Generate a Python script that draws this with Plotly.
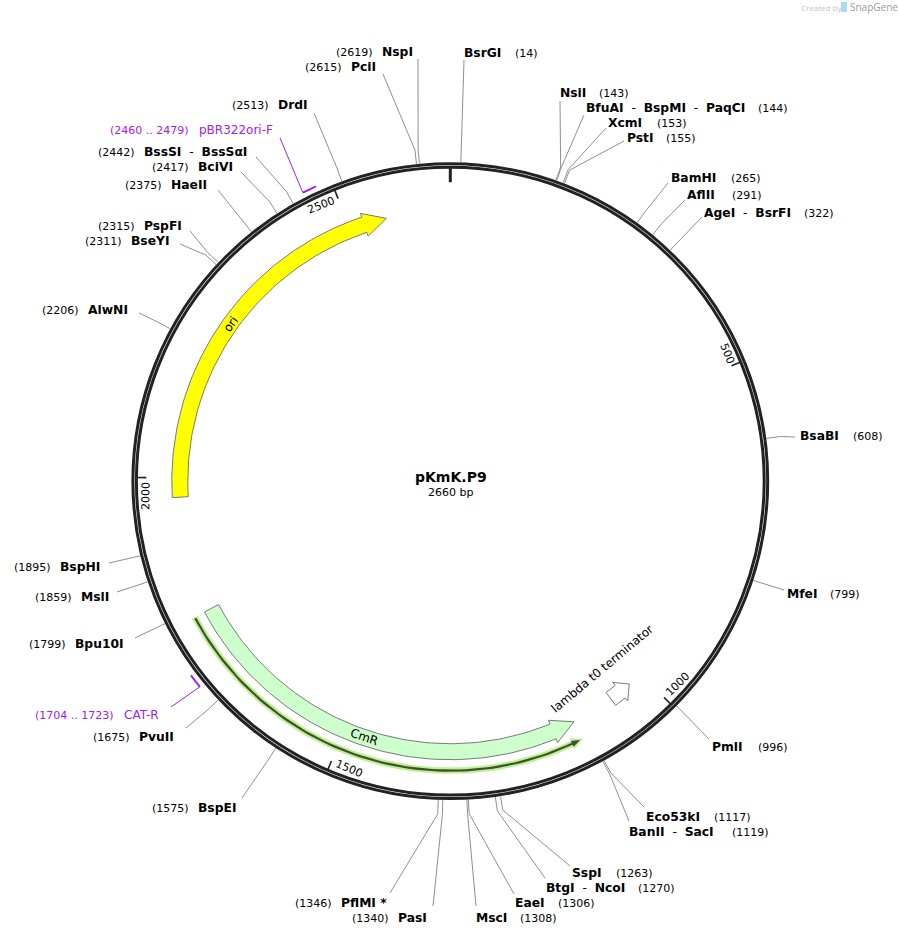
import numpy as np
import plotly.graph_objects as go

plasmid_name = "pKmK.P9"
plasmid_len = 2660

# restriction sites, clockwise from the origin
site_names = ["BsrGI", "NsiI", "BfuAI - BspMI - PaqCI", "XcmI", "PstI", "BamHI", "AflII",
              "AgeI - BsrFI", "BsaBI", "MfeI", "PmlI", "Eco53kI", "BanII - SacI", "SspI",
              "BtgI - NcoI", "EaeI", "MscI", "PasI", "PflMI *", "BspEI", "PvuII", "Bpu10I",
              "MslI", "BspHI", "AlwNI", "BseYI", "PspFI", "HaeII", "BciVI", "BssSI - BssSαI",
              "DrdI", "PciI", "NspI"]
site_bp = [14, 143, 144, 153, 155, 265, 291, 322, 608, 799, 996, 1117, 1119, 1263, 1270,
           1306, 1308, 1340, 1346, 1575, 1675, 1799, 1859, 1895, 2206, 2311, 2315, 2375,
           2417, 2442, 2513, 2615, 2619]

# label placement for the sites above (same order)
name_x = [464, 560, 586, 608, 627, 671, 687, 704, 800, 787, 712, 646, 629, 572, 546, 515, 476,
          398, 341, 198, 139, 75, 81, 60, 88, 131, 144, 171, 198, 144, 278, 351, 382]
num_x = [515, 599, 758, 657, 666, 731, 732, 804, 853, 830, 758, 714, 732, 616, 638, 558, 520,
         352, 295, 152, 93, 29, 35, 14, 42, 85, 98, 125, 152, 98, 232, 305, 336]
label_y = [53, 93, 108, 123, 138, 178, 195, 213, 436, 594, 747, 817, 832, 873, 888, 903, 918,
           918, 903, 808, 737, 644, 597, 567, 310, 241, 226, 185, 167, 152, 105, 67, 52]
leader_x = [464, 560, 584, 606, 624, 668, 685, 702, 795, 784, 709, 644, 629, 570, 545, 514, 476,
            433, 390, 242, 186, 135, 117, 109, 139, 180, 190, 218, 241, 256, 314, 383, 418]
leader_y = [60, 101, 115, 128, 141, 183, 200, 217, 437, 590, 739, 807, 821, 866, 878, 894, 906,
            906, 893, 798, 728, 638, 592, 563, 313, 244, 231, 190, 172, 157, 113, 74, 59]

# features
feature_names = ["ori", "CmR", "lambda t0 terminator"]
feature_start = [1970, 1129, 1024]
feature_end = [2559, 1788, 1061]
feature_clockwise = [True, False, False]
feature_fill = ["#ffff00", "#ccffcc", "#ffffff"]
label_pos = [(231, 324, -54), (364, 737, 18.6), (602, 669, -40)]

cds_start = 1129
cds_end = 1788

# primers
primer_names = ["pBR322ori-F", "CAT-R"]
primer_start = [2460, 1704]
primer_end = [2479, 1723]
primer_name_x = [199, 124]
primer_num_x = [110, 35]
primer_y = [130, 715]
primer_leader = [(280, 138), (171, 707)]

tick_bp = [500, 1000, 1500, 2000, 2500]

CX, CY = 450.3, 481.2
INK = "#222222"
PURPLE = "#a020f0"
FONT = "DejaVu Sans"


def pt(bp, r):
    a = np.radians(np.asarray(bp, dtype=float) / plasmid_len * 360)
    return CX + r * np.sin(a), CY - r * np.cos(a)


def arrow(start, end, clockwise, r, half, head_half, head_bp=36):
    # polygon for a curved feature arrow, walking from tail to tip
    tail, tip = (start, end) if clockwise else (end, start)
    step = 1 if clockwise else -1
    head_bp = min(head_bp, abs(end - start) / 2)
    neck = tip - step * head_bp
    arc = np.linspace(tail, neck, 80)
    xo, yo = pt(arc, r + half)
    xi, yi = pt(arc[::-1], r - half)
    hx = [pt(neck, r + head_half)[0], pt(tip, r)[0], pt(neck, r - head_half)[0]]
    hy = [pt(neck, r + head_half)[1], pt(tip, r)[1], pt(neck, r - head_half)[1]]
    x = list(xo) + hx + list(xi) + [xo[0]]
    y = list(yo) + hy + list(yi) + [yo[0]]
    return x, y


def label(fig, x, y, text, size=12, color="black", angle=0, anchor="left", family=FONT):
    fig.add_annotation(x=x, y=y, text=text, showarrow=False, xanchor=anchor, yanchor="middle",
                       textangle=angle, borderpad=0, align="left",
                       font=dict(family=family, size=size, color=color))


def bold_name(name):
    return "<b>" + name.replace(" - ", "</b>\u00a0\u00a0-\u00a0\u00a0<b>") + "</b>"


fig = go.Figure()

# backbone: two thin rings
for r in (317.4, 313.9):
    fig.add_shape(type="circle", x0=CX - r, x1=CX + r, y0=CY - r, y1=CY + r,
                  line=dict(color=INK, width=3))

# site leaders
lx, ly = [], []
for bp, ex, ey in zip(site_bp, leader_x, leader_y):
    x0, y0 = pt(bp, 319)
    x1, y1 = pt(bp, 333)
    lx += [x0, x1, ex, None]
    ly += [y0, y1, ey, None]
fig.add_trace(go.Scatter(x=lx, y=ly, mode="lines", line=dict(color="#8f8f8f", width=1)))

for n, bp, nx, ux, y in zip(site_names, site_bp, name_x, num_x, label_y):
    label(fig, nx - 1, y - 0.5, bold_name(n), size=12.3)
    label(fig, ux - 1, y + 0.5, f"({bp})", size=11)

# feature arrows
for s, e, cw, fill in zip(feature_start, feature_end, feature_clockwise, feature_fill):
    x, y = arrow(s, e, cw, 270.5, 8, 12)
    fig.add_trace(go.Scatter(x=x, y=y, mode="lines", fill="toself", fillcolor=fill,
                             line=dict(color="#7a7a7a", width=1)))
for n, (x, y, a) in zip(feature_names, label_pos):
    label(fig, x, y, n, angle=a, anchor="center")

# translation of CmR, pale highlight with a dark core
x, y = arrow(cds_start, cds_end, False, 289.5, 3.2, 6, head_bp=17)
fig.add_trace(go.Scatter(x=x, y=y, mode="lines", fill="toself", fillcolor="#bdf08f",
                         line=dict(width=0)))
x, y = arrow(cds_start + 4, cds_end - 2, False, 289.5, 1.1, 3.2, head_bp=13)
fig.add_trace(go.Scatter(x=x, y=y, mode="lines", fill="toself", fillcolor="#3f4f30",
                         line=dict(width=0)))

# primers
for n, s, e, nx, ux, y, (ex, ey) in zip(primer_names, primer_start, primer_end, primer_name_x,
                                         primer_num_x, primer_y, primer_leader):
    arc = np.linspace(s, e, 6)
    fig.add_trace(go.Scatter(x=pt(arc, 324)[0], y=pt(arc, 324)[1], mode="lines",
                             line=dict(color=PURPLE, width=2)))
    px0, py0 = pt(s, 324)
    fig.add_trace(go.Scatter(x=[ex, px0], y=[ey, py0], mode="lines",
                             line=dict(color=PURPLE, width=1)))
    label(fig, nx - 1, y, n, color=PURPLE)
    label(fig, ux - 1, y, f"({s} .. {e})", size=11, color=PURPLE)

# scale ticks
x0, y0 = pt(0, 313)
x1, y1 = pt(0, 299)
fig.add_trace(go.Scatter(x=[x0, x1], y=[y0, y1], mode="lines", line=dict(color=INK, width=3)))
for t in tick_bp:
    x0, y0 = pt(t, 314)
    x1, y1 = pt(t, 304)
    fig.add_trace(go.Scatter(x=[x0, x1], y=[y0, y1], mode="lines", line=dict(color=INK, width=1.6)))
    off = 18 if t == 500 else 26
    tx, ty = pt(t - off, 305)
    rot = t / plasmid_len * 360
    rot = rot - 180 if 90 < rot < 270 else rot
    if rot > 180:
        rot -= 360
    label(fig, tx, ty, str(t), size=11, angle=rot, anchor="center")

# centre title
label(fig, 450.5, 477, f"<b>{plasmid_name}</b>", size=14, anchor="center")
label(fig, 450.5, 492, f"{plasmid_len} bp", size=11, anchor="center")

# watermark
label(fig, 800, 7, "Created by", size=8, color="#c4c4c4", family="Open Sans")
fig.add_shape(type="rect", x0=841, x1=847, y0=2, y1=12, fillcolor="#a8dcf2",
              line=dict(color="#a8dcf2", width=0))
label(fig, 849, 7, "SnapGene", size=10, color="#9a9a9a", family="Open Sans")

fig.update_layout(
    width=898, height=936, margin=dict(l=0, r=0, t=0, b=0), showlegend=False,
    plot_bgcolor="white", paper_bgcolor="white",
    xaxis=dict(range=[0, 898], visible=False, fixedrange=True),
    yaxis=dict(range=[936, 0], visible=False, fixedrange=True),
)

fig.write_html("out.html", config={"displayModeBar": False},
               post_script="document.body.style.margin='0';document.body.style.overflow='hidden';")
